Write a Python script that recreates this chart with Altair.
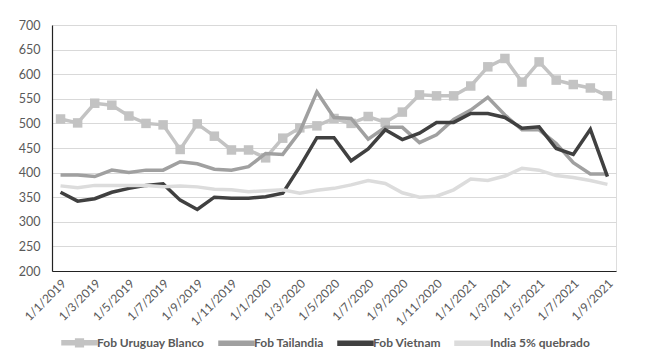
import altair as alt
import pandas as pd

months = [f"1/{m}/{y}" for y in (2019, 2020, 2021) for m in range(1, 13)][:33]
tick_labels = months[::2]

series_names = ["Fob Uruguay Blanco", "Fob Tailandia", "Fob Vietnam", "India 5% quebrado"]
colors = ["#c3c3c3", "#a0a0a0", "#404040", "#dcdcdc"]

uruguay = [509, 501, 541, 537, 515, 500, 497, 447, 499, 474, 446, 446, 430, 470, 491, 495,
           510, 500, 514, 502, 523, 558, 556, 556, 576, 615, 632, 584, 625, 588, 579, 572, 556]
tailandia = [395, 395, 392, 405, 400, 405, 405, 422, 418, 407, 405, 412, 439, 437, 483, 564,
             512, 510, 468, 492, 492, 461, 477, 508, 527, 553, 517, 487, 487, 459, 420, 397, 397]
vietnam = [360, 342, 347, 360, 368, 374, 377, 344, 325, 350, 348, 348, 351, 358, 412, 471,
           471, 424, 448, 487, 467, 480, 502, 502, 520, 520, 512, 490, 493, 449, 437, 488, 392]
india = [373, 369, 374, 374, 374, 374, 371, 373, 371, 366, 365, 361, 363, 365, 358, 364,
         368, 375, 384, 378, 359, 350, 352, 365, 387, 384, 393, 409, 405, 394, 390, 384, 376]

rows = []
for name, vals in zip(series_names, [uruguay, tailandia, vietnam, india]):
    for m, v in zip(months, vals):
        rows.append({"month": m, "value": v, "series": name})
df = pd.DataFrame(rows)

font = "Lato"
line_path = "M-1,-0.115H1V0.115H-1Z"
uru_path = "M-1,-0.115H1V0.115H-1ZM-0.22,-0.22H0.22V0.22H-0.22Z"

x_enc = alt.X("month:O", sort=months, title=None,
              scale=alt.Scale(paddingOuter=0.5, paddingInner=0),
              axis=alt.Axis(values=tick_labels, labelAngle=-45, labelAlign="right",
                            labelBaseline="middle", labelPadding=10, labelOffset=3, ticks=False,
                            domainColor="#222222", domainWidth=1.2,
                            labelColor="#595959", labelFontSize=12, labelFont=font, grid=False))
y_enc = alt.Y("value:Q", title=None,
              scale=alt.Scale(domain=[200, 700], nice=False, zero=False),
              axis=alt.Axis(values=list(range(200, 701, 50)), ticks=False, labelPadding=12,
                            domainColor="#222222", domainWidth=1.2, gridColor="#d9d9d9",
                            gridWidth=1, labelColor="#595959", labelFontSize=12.5, labelFont=font))
color_scale = alt.Scale(domain=series_names, range=colors)

legend_def = dict(title=None, orient="none", direction="horizontal",
                  legendX=9, legendY=299, columns=4, columnPadding=11,
                  labelOffset={"expr": "-1"}, symbolSize=1225, padding=0,
                  labelFont=font, labelFontSize=12, labelFontWeight="bold",
                  labelColor="#595959")

base = alt.Chart(df)

legend_layer = base.mark_point(filled=True, opacity=1, size=1225).encode(
    x=x_enc, y=y_enc,
    color=alt.Color("series:N", scale=color_scale, legend=alt.Legend(**legend_def)),
    shape=alt.Shape("series:N", scale=alt.Scale(domain=series_names,
                                                range=[uru_path, line_path, line_path, line_path]),
                    legend=alt.Legend(**legend_def)),
).transform_filter("false")

uru_line = base.mark_line(strokeWidth=3.5).encode(
    x=x_enc, y=y_enc,
    color=alt.Color("series:N", scale=color_scale, legend=None),
).transform_filter(alt.datum.series == series_names[0])

uru_pts = base.mark_point(shape="square", filled=True, opacity=1, size=90).encode(
    x=x_enc, y=y_enc,
    color=alt.Color("series:N", scale=color_scale, legend=None),
).transform_filter(alt.datum.series == series_names[0])

other_lines = []
for name in series_names[1:]:
    other_lines.append(base.mark_line(strokeWidth=3.5).encode(
        x=x_enc, y=y_enc,
        color=alt.Color("series:N", scale=color_scale, legend=None),
    ).transform_filter(alt.datum.series == name))

chart = alt.layer(legend_layer, uru_line, uru_pts, *other_lines).properties(
    width=564, height=246,
    autosize=alt.AutoSizeParams(type="none"),
    padding={"left": 44, "top": 17, "right": 22, "bottom": 81},
).configure_view(stroke=None).configure(background="white")

chart.save("out.html", embed_options={"renderer": "svg", "actions": False})
